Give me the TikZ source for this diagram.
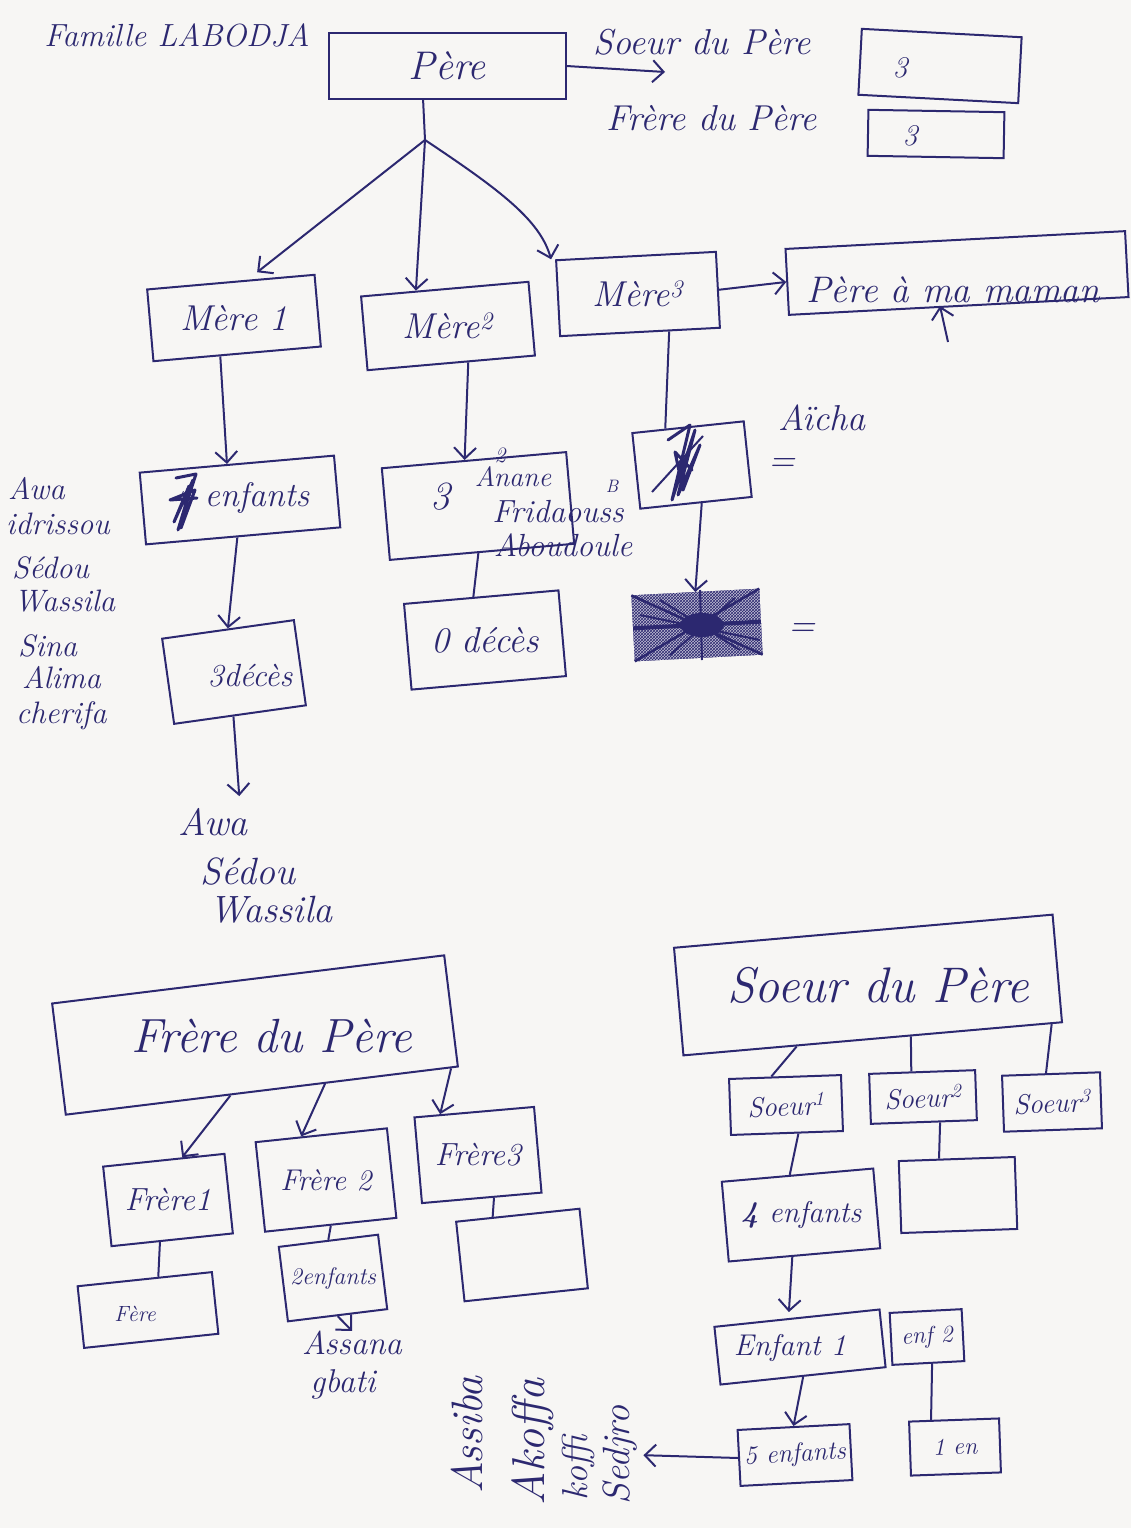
\documentclass[tikz,border=0pt]{standalone}
\usepackage{fontspec}
\usetikzlibrary{arrows.meta,calc,patterns}
\definecolor{ink}{RGB}{44,40,112}
\definecolor{paper}{RGB}{247,246,244}
\newcommand{\myfs}[1]{\fontsize{#1}{#1}\selectfont}
\tikzset{
  every node/.style={text=ink, inner sep=0pt, font=\itshape},
  bx/.style={draw=ink, line width=2pt, rectangle},
  ln/.style={draw=ink, line width=2pt},
  arr/.style={ln, -{Straight Barb[length=11pt,width=22pt]}},
  scrib/.style={draw=ink, line width=3pt, line join=round, line cap=round},
}
\begin{document}
\begin{tikzpicture}[x=1pt,y=-1pt]
\useasboundingbox (0,0) rectangle (1131,1528);
\fill[paper] (0,0) rectangle (1131,1528);

% ---------- top ----------
\node (fam) at (177,35) {\myfs{32}Famille LABODJA};
\node[bx, minimum width=237, minimum height=66] (pere) at (447,66) {\myfs{40}Père};
\node (soeurl) at (702,42) {\myfs{36}Soeur du Père};
\node (frerel) at (712,118) {\myfs{36}Frère du Père};
\node[bx, minimum width=160, minimum height=66, rotate=-3] (b3a) at (940,66) {};
\node (t3a) at (900,68) {\myfs{30}3};
\node[bx, minimum width=136, minimum height=46, rotate=-1] (b3b) at (936,134) {};
\node (t3b) at (910,136) {\myfs{30}3};
\coordinate (sp) at (665,72);
\draw[arr] (pere.east) -- (sp);

\coordinate (j) at (425,140);
\draw[ln] ($(pere.south west)!0.4!(pere.south east)$) -- (j);

\node[bx, minimum width=168, minimum height=72, rotate=5] (mere1) at (234,318) {};
\node (mere1t) at (mere1.center) {\myfs{36}Mère 1};
\node[bx, minimum width=168, minimum height=74, rotate=5] (mere2) at (448,326) {};
\node (mere2t) at (mere2.center) {\myfs{36}Mère\textsuperscript{2}};
\node[bx, minimum width=160, minimum height=76, rotate=3] (mere3) at (638,294) {};
\node (mere3t) at (mere3.center) {\myfs{36}Mère\textsuperscript{3}};
\node[bx, minimum width=340, minimum height=66, rotate=3] (ppm) at (957,273) {};
\node (ppmt) at (953,290) {\myfs{37}Père à ma maman};

\draw[arr, shorten >=12pt] (j) -- ($(mere1.north west)!0.6!(mere1.north east)$);
\draw[arr] (j) -- ($(mere2.north west)!0.33!(mere2.north east)$);
\draw[arr] (j) .. controls (500,190) and (540,220) .. ($(mere3.north west)+(-4,0)$);
\draw[arr] (mere3.east) -- (ppm.west);
\coordinate (u1) at (948,342);
\coordinate (u2) at (940,306);
\draw[arr] (u1) -- (u2);

% ---------- Mere 1 branch ----------
\node[bx, minimum width=195, minimum height=72, rotate=5] (enf) at (240,500) {};
\node (enft) at (257,498) {\myfs{34}enfants};
\node (sev) at (183,504) {\myfs{36}7};
\draw[scrib] (176,478) -- (196,474) -- (178,530) -- (193,480) -- (174,522) -- (189,486) -- (181,528) -- (195,490) -- (170,500) -- (197,498);
\draw[arr] ($(mere1.south west)!0.4!(mere1.south east)$) -- ($(enf.north west)!0.45!(enf.north east)$);

\node[anchor=west] (n1) at (8,489) {\myfs{31}Awa};
\node[anchor=west] (n2) at (6,524) {\myfs{31}idrissou};
\node[anchor=west] (n3) at (12,568) {\myfs{31}Sédou};
\node[anchor=west] (n4) at (14,601) {\myfs{31}Wassila};
\node[anchor=west] (n5) at (18,646) {\myfs{31}Sina};
\node[anchor=west] (n6) at (22,678) {\myfs{31}Alima};
\node[anchor=west] (n7) at (16,716) {\myfs{31}cherifa};

\node[bx, minimum width=133, minimum height=86, rotate=8] (dec3) at (234,672) {};
\node (dec3t) at (250,676) {\myfs{32}3décès};
\draw[arr] ($(enf.south west)!0.47!(enf.south east)$) -- ($(dec3.north west)!0.5!(dec3.north east)$);

\node (aw) at (213,822) {\myfs{38}Awa};
\node (sd) at (248,872) {\myfs{38}Sédou};
\node (ws) at (271,910) {\myfs{38}Wassila};
\draw[arr, shorten >=12pt] ($(dec3.south west)!0.45!(dec3.south east)$) -- (aw.north -| dec3.south);

% ---------- Mere 2 branch ----------
\node[bx, minimum width=185, minimum height=92, rotate=5] (b3) at (478,506) {};
\node (t3) at (440,497) {\myfs{40}3};
\node (an) at (513,477) {\myfs{28}Anane};
\node (an2) at (500,455) {\myfs{22}2};
\node (fr) at (558,512) {\myfs{32}Fridaouss};
\node (frb) at (612,486) {\myfs{18}B};
\node (ab) at (563,545) {\myfs{32}Aboudoule};
\draw[arr] ($(mere2.south west)!0.6!(mere2.south east)$) -- ($(b3.north west)!0.45!(b3.north east)$);

\node[bx, minimum width=155, minimum height=86, rotate=5] (dec0) at (485,640) {};
\node (dec0t) at (dec0.center) {\myfs{36}0 décès};
\draw[ln] ($(b3.south west)!0.48!(b3.south east)$) -- ($(dec0.north west)!0.45!(dec0.north east)$);

% ---------- Mere 3 branch ----------
\node[bx, minimum width=112, minimum height=76, rotate=6] (s1) at (692,465) {};
\draw[scrib] (668,440) -- (690,425) -- (672,500) -- (695,430) -- (678,495) -- (700,445) -- (683,490) -- (675,452) -- (692,470);
\draw[ln] (652,492) -- (703,436);
\draw[ln] ($(mere3.south west)!0.68!(mere3.south east)$) -- ($(s1.north west)!0.3!(s1.north east)$);
\node (ai) at (822,418) {\myfs{36}Aïcha};
\node (eq1) at (782,465) {\myfs{36}=};

\node[bx, minimum width=126, minimum height=64, rotate=3] (s2) at (697,625) {};
\path[fill=ink!30] (s2.north west) -- (s2.north east) -- (s2.south east) -- (s2.south west) -- cycle;
\path[pattern=crosshatch, pattern color=ink] (s2.north west) -- (s2.north east) -- (s2.south east) -- (s2.south west) -- cycle;
\draw[ln, line width=2.5pt] (s2.north west) -- (s2.south east);
\draw[ln, line width=2.5pt] (s2.south west) -- (s2.north east);
\draw[ln, line width=4pt] (s2.west) -- (s2.east);
\draw[ln] (660,600) -- (740,650) (670,655) -- (735,598) (700,590) -- (702,660) (640,615) -- (760,640);
\fill[ink] (702,625) ellipse (22pt and 12pt);
\draw[arr] ($(s1.south west)!0.55!(s1.south east)$) -- ($(s2.north west)!0.5!(s2.north east)$);
\node (eq2) at (802,630) {\myfs{36}=};

% ---------- Frere du Pere ----------
\node[bx, minimum width=395, minimum height=112, rotate=7] (fdp) at (255,1035) {};
\node (fdpt) at (272,1036) {\myfs{48}Frère du Père};
\node[bx, minimum width=122, minimum height=80, rotate=6] (f1) at (168,1200) {};
\node (f1t) at (f1.center) {\myfs{32}Frère1};
\node[bx, minimum width=132, minimum height=90, rotate=6] (f2) at (326,1180) {};
\node (f2t) at (f2.center) {\myfs{30}Frère 2};
\node[bx, minimum width=120, minimum height=86, rotate=5] (f3) at (478,1155) {};
\node (f3t) at (f3.center) {\myfs{32}Frère3};
\draw[arr] ($(fdp.south west)!0.42!(fdp.south east)$) -- ($(f1.north west)!0.65!(f1.north east)$);
\draw[arr] ($(fdp.south west)!0.66!(fdp.south east)$) -- ($(f2.north west)!0.35!(f2.north east)$);
\draw[arr] ($(fdp.south west)!0.98!(fdp.south east)$) -- ($(f3.north west)!0.22!(f3.north east)$);

\node[bx, minimum width=135, minimum height=62, rotate=6] (fere) at (148,1310) {};
\node (feret) at (135,1314) {\myfs{22}Fère};
\draw[ln] ($(f1.south west)!0.4!(f1.south east)$) -- ($(fere.north west)!0.6!(fere.north east)$);

\node[bx, minimum width=100, minimum height=75, rotate=7] (e2) at (333,1278) {};
\node (e2t) at (e2.center) {\myfs{24}2enfants};
\draw[ln] ($(f2.south west)!0.5!(f2.south east)$) -- ($(e2.north west)!0.5!(e2.north east)$);
\node (as) at (352,1343) {\myfs{33}Assana};
\node (gb) at (343,1384) {\myfs{33}gbati};
\draw[arr] (e2.south) -- (as.north);

\node[bx, minimum width=124, minimum height=80, rotate=6] (eb) at (522,1255) {};
\draw[ln] ($(f3.south west)!0.6!(f3.south east)$) -- ($(eb.north west)!0.3!(eb.north east)$);

% ---------- Soeur du Pere ----------
\node[bx, minimum width=380, minimum height=108, rotate=5] (sdp) at (868,985) {};
\node (sdpt) at (878,985) {\myfs{50}Soeur du Père};
\node[bx, minimum width=112, minimum height=56, rotate=2] (so1) at (786,1105) {\myfs{28}Soeur\textsuperscript{1}};
\node[bx, minimum width=106, minimum height=50, rotate=2] (so2) at (923,1097) {\myfs{28}Soeur\textsuperscript{2}};
\node[bx, minimum width=98, minimum height=56, rotate=2] (so3) at (1052,1102) {\myfs{28}Soeur\textsuperscript{3}};
\draw[ln] ($(sdp.south west)!0.3!(sdp.south east)$) -- ($(so1.north west)!0.38!(so1.north east)$);
\draw[ln] ($(sdp.south west)!0.6!(sdp.south east)$) -- ($(so2.north west)!0.4!(so2.north east)$);
\draw[ln] ($(sdp.south west)!0.97!(sdp.south east)$) -- ($(so3.north west)!0.45!(so3.north east)$);

\node[bx, minimum width=152, minimum height=80, rotate=5] (e4) at (801,1215) {};
\node (e4t) at (e4.center) {\myfs{30}{\bfseries 4} enfants};
\draw[ln] ($(so1.south west)!0.6!(so1.south east)$) -- ($(e4.north west)!0.45!(e4.north east)$);
\node[bx, minimum width=116, minimum height=72, rotate=2] (eb2) at (958,1195) {};
\draw[ln] ($(so2.south west)!0.65!(so2.south east)$) -- ($(eb2.north west)!0.35!(eb2.north east)$);

\node[bx, minimum width=166, minimum height=58, rotate=6] (en1) at (800,1347) {};
\node (en1t) at (790,1348) {\myfs{30}Enfant 1};
\node[bx, minimum width=72, minimum height=52, rotate=3] (en2) at (927,1337) {\myfs{24}enf 2};
\draw[arr, shorten >=6pt] ($(e4.south west)!0.42!(e4.south east)$) -- ($(en1.north west)!0.45!(en1.north east)$);

\node[bx, minimum width=112, minimum height=56, rotate=3] (f5) at (795,1455) {\myfs{26}5 enfants};
\draw[arr] ($(en1.south west)!0.5!(en1.south east)$) -- ($(f5.north west)!0.5!(f5.north east)$);
\node[bx, minimum width=90, minimum height=54, rotate=2] (b7) at (955,1447) {\myfs{24}1 en};
\draw[ln] ($(en2.south west)!0.55!(en2.south east)$) -- ($(b7.north west)!0.25!(b7.north east)$);

\node[rotate=90] (asb) at (467,1435) {\myfs{44}Assiba};
\node[rotate=90] (akf) at (533,1442) {\myfs{46}Akoffa};
\node[rotate=90] (kof) at (578,1468) {\myfs{36}koffi};
\node[rotate=90] (sed) at (620,1455) {\myfs{38}Sedjro};
\draw[arr, shorten >=6pt] (f5.west) -- (sed.south);
\end{tikzpicture}
\end{document}
